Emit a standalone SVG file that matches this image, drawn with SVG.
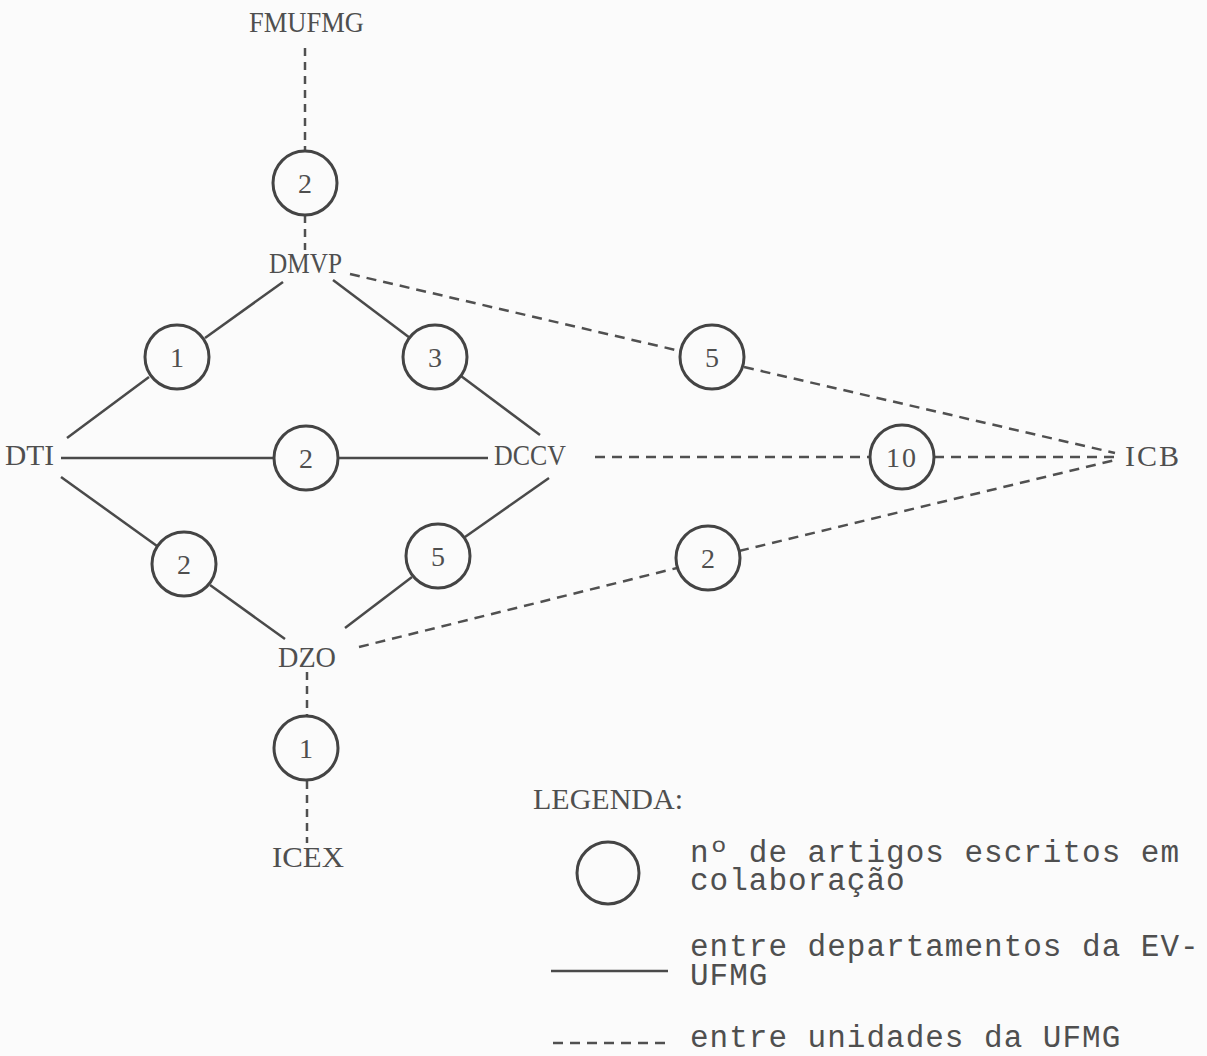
<svg xmlns="http://www.w3.org/2000/svg" width="1207" height="1056" viewBox="0 0 1207 1056">
  <style>
    .bg { fill: #fbfbfb; }
    .lbl { font-family: "Liberation Serif", "DejaVu Serif", serif; font-size: 30px; fill: #4f4f4f; }
    .num { font-family: "Liberation Serif", "DejaVu Serif", serif; font-size: 28px; fill: #4f4f4f; text-anchor: middle; }
    .leg { font-family: "Liberation Mono", "DejaVu Sans Mono", monospace; font-size: 31px; letter-spacing: 1px; fill: #4f4f4f; }
    .circ { fill: none; stroke: #444444; stroke-width: 3; }
    .solid { fill: none; stroke: #4a4a4a; stroke-width: 2.5; }
    .dash { fill: none; stroke: #505050; stroke-width: 2.5; stroke-dasharray: 10 7; }
    .vdash { fill: none; stroke: #505050; stroke-width: 2.5; stroke-dasharray: 8 6; }
  </style>
  <rect class="bg" x="0" y="0" width="1207" height="1056"/>

  <g id="connectors">
    <!-- FMUFMG - DMVP via 2 -->
    <line class="vdash" x1="305" y1="48" x2="305" y2="151"/>
    <line class="vdash" x1="305" y1="215" x2="305" y2="250"/>
    <!-- DMVP - DTI via 1 -->
    <line class="solid" x1="283" y1="282" x2="205" y2="338"/>
    <line class="solid" x1="149" y1="377" x2="67" y2="438"/>
    <!-- DMVP - DCCV via 3 -->
    <line class="solid" x1="333" y1="280" x2="410" y2="338"/>
    <line class="solid" x1="461" y1="376" x2="540" y2="435"/>
    <!-- DTI - DCCV via 2 -->
    <line class="solid" x1="61" y1="458" x2="274" y2="458"/>
    <line class="solid" x1="338" y1="458" x2="488" y2="458"/>
    <!-- DTI - DZO via 2 -->
    <line class="solid" x1="61" y1="477" x2="157" y2="546"/>
    <line class="solid" x1="210" y1="585" x2="285" y2="639"/>
    <!-- DCCV - DZO via 5 -->
    <line class="solid" x1="549" y1="478" x2="465" y2="537"/>
    <line class="solid" x1="412" y1="577" x2="345" y2="628"/>
    <!-- DMVP - ICB via 5 -->
    <line class="dash" x1="350" y1="274" x2="680" y2="351"/>
    <line class="dash" x1="744" y1="367" x2="1115" y2="453"/>
    <!-- DCCV - ICB via 10 -->
    <line class="dash" x1="595" y1="457" x2="870" y2="457"/>
    <line class="dash" x1="934" y1="457" x2="1115" y2="457"/>
    <!-- DZO - ICB via 2 -->
    <line class="dash" x1="359" y1="647" x2="677" y2="568"/>
    <line class="dash" x1="739" y1="551" x2="1115" y2="460"/>
    <!-- DZO - ICEX via 1 -->
    <line class="vdash" x1="307" y1="672" x2="307" y2="716"/>
    <line class="vdash" x1="307" y1="781" x2="307" y2="843"/>
  </g>

  <g id="node-FMUFMG"><text class="lbl" x="249" y="32" textLength="115" lengthAdjust="spacingAndGlyphs">FMUFMG</text></g>
  <g id="node-DMVP"><text class="lbl" x="269" y="273" textLength="73" lengthAdjust="spacingAndGlyphs">DMVP</text></g>
  <g id="node-DTI"><text class="lbl" x="5" y="465" textLength="49" lengthAdjust="spacingAndGlyphs">DTI</text></g>
  <g id="node-DCCV"><text class="lbl" x="494" y="465" textLength="72" lengthAdjust="spacingAndGlyphs">DCCV</text></g>
  <g id="node-ICB"><text class="lbl" x="1125" y="466" textLength="54" lengthAdjust="spacing">ICB</text></g>
  <g id="node-DZO"><text class="lbl" x="278" y="667" textLength="58" lengthAdjust="spacingAndGlyphs">DZO</text></g>
  <g id="node-ICEX"><text class="lbl" x="272" y="867" textLength="72" lengthAdjust="spacingAndGlyphs">ICEX</text></g>

  <g id="count-FMUFMG-DMVP"><circle class="circ" cx="305" cy="183" r="32"/><text class="num" x="305" y="193">2</text></g>
  <g id="count-DMVP-DTI"><circle class="circ" cx="177" cy="357" r="32"/><text class="num" x="177" y="367">1</text></g>
  <g id="count-DMVP-DCCV"><circle class="circ" cx="435" cy="357" r="32"/><text class="num" x="435" y="367">3</text></g>
  <g id="count-DMVP-ICB"><circle class="circ" cx="712" cy="357" r="32"/><text class="num" x="712" y="367">5</text></g>
  <g id="count-DTI-DCCV"><circle class="circ" cx="306" cy="458" r="32"/><text class="num" x="306" y="468">2</text></g>
  <g id="count-DCCV-ICB"><circle class="circ" cx="902" cy="457" r="32"/><text class="num" x="902" y="467" letter-spacing="2">10</text></g>
  <g id="count-DTI-DZO"><circle class="circ" cx="184" cy="564" r="32"/><text class="num" x="184" y="574">2</text></g>
  <g id="count-DCCV-DZO"><circle class="circ" cx="438" cy="556" r="32"/><text class="num" x="438" y="566">5</text></g>
  <g id="count-DZO-ICB"><circle class="circ" cx="708" cy="558" r="32"/><text class="num" x="708" y="568">2</text></g>
  <g id="count-DZO-ICEX"><circle class="circ" cx="306" cy="748" r="32"/><text class="num" x="306" y="758">1</text></g>

  <g id="legend">
    <text class="lbl" x="533" y="809" textLength="150" lengthAdjust="spacingAndGlyphs">LEGENDA:</text>
    <circle class="circ" cx="608" cy="873" r="31"/>
    <text class="leg" x="690" y="862">nº de artigos escritos em</text>
    <text class="leg" x="690" y="890">colaboração</text>
    <line class="solid" x1="551" y1="971" x2="668" y2="971"/>
    <text class="leg" x="690" y="956">entre departamentos da EV-</text>
    <text class="leg" x="690" y="985">UFMG</text>
    <line class="dash" x1="553" y1="1043" x2="667" y2="1043" stroke-dasharray="13 6"/>
    <text class="leg" x="690" y="1047">entre unidades da UFMG</text>
  </g>
</svg>
